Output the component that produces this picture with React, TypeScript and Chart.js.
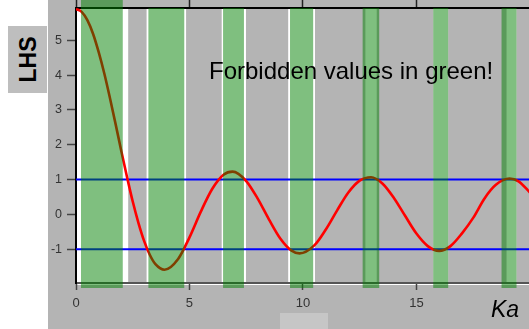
import React, { useEffect, useRef } from "react";
import { Chart, registerables } from "chart.js";

Chart.register(...registerables);

// Ka values (x) and the LHS curve values
const kaValues = [0, 0.25, 0.5, 0.75, 1, 1.25, 1.5, 1.75, 2, 2.25, 2.5, 2.75, 3, 3.25, 3.5, 3.9, 4.5, 5, 5.5, 6, 6.5, 6.9, 7.5, 8, 8.5, 9, 9.5, 9.85, 10.5, 11, 11.5, 12, 12.5, 13, 13.5, 14, 14.5, 15, 15.5, 16, 16.5, 17, 17.5, 18, 18.5, 19.1, 19.5, 20];
const lhsValues = [5.9, 5.82, 5.58, 5.19, 4.66, 4.04, 3.33, 2.58, 1.81, 1.07, 0.37, -0.24, -0.76, -1.16, -1.43, -1.59, -1.28, -0.66, 0.08, 0.73, 1.14, 1.23, 0.96, 0.46, -0.14, -0.69, -1.04, -1.12, -0.89, -0.44, 0.11, 0.63, 0.97, 1.07, 0.89, 0.48, -0.04, -0.55, -0.91, -1.05, -0.91, -0.55, -0.1, 0.46, 0.85, 1.03, 0.95, 0.63];

// Limit lines
const upperLimit = 1;
const lowerLimit = -1;

// Forbidden (green) bands in Ka units
const forbiddenStart = [0.22, 3.19, 6.48, 9.43, 12.63, 15.74, 18.75];
const forbiddenEnd = [2.06, 4.77, 7.4, 10.45, 13.36, 16.4, 19.41];

// Allowed (grey) bands in Ka units
const allowedStart = [2.3, 4.85, 7.49, 10.53, 13.25, 16.4, 19.41];
const allowedEnd = [3.11, 6.42, 9.35, 12.75, 15.74, 18.97, 21];

// Axis ranges and ticks
const X_MIN = 0;
const X_MAX = 19.96;
const Y_MIN = -1.97;
const Y_MAX = 5.93;
const xTickStep = 5;
const yTickStep = 1;

const FONT = "'Liberation Sans', Arial, Helvetica, sans-serif";
const PANEL_GRAY = "#b4b4b4";

const bandsPlugin = {
  id: "bands",
  beforeDraw(chart: any) {
    const { ctx, chartArea: a, width, height } = chart;
    const xs = chart.scales.x;
    ctx.save();
    ctx.fillStyle = "#ffffff";
    ctx.fillRect(0, 0, width, height);
    ctx.fillStyle = PANEL_GRAY;
    ctx.fillRect(48, 0, width - 48, height);
    ctx.fillStyle = "#ffffff";
    ctx.fillRect(a.left, a.top, a.right - a.left, a.bottom - a.top + 2);
    ctx.fillStyle = PANEL_GRAY;
    for (let i = 0; i < allowedStart.length; i++) {
      const x0 = Math.max(xs.getPixelForValue(allowedStart[i]), a.left);
      const x1 = Math.min(xs.getPixelForValue(allowedEnd[i]), a.right);
      if (x1 > x0) ctx.fillRect(x0, a.top, x1 - x0, a.bottom - a.top);
    }
    ctx.restore();
  },
  afterDatasetsDraw(chart: any) {
    const { ctx, chartArea: a } = chart;
    const xs = chart.scales.x;
    ctx.save();
    ctx.fillStyle = "rgba(0,128,0,0.5)";
    for (let i = 0; i < forbiddenStart.length; i++) {
      const x0 = Math.max(xs.getPixelForValue(forbiddenStart[i]), a.left);
      const x1 = Math.min(xs.getPixelForValue(forbiddenEnd[i]), a.right);
      const top = i === 0 ? 0 : a.top;
      const bottom = a.bottom + 5;
      if (x1 > x0) ctx.fillRect(x0, top, x1 - x0, bottom - top);
    }
    ctx.restore();
  },
};

function fixSize(size: { w?: number; h?: number }) {
  return (scale: any) => {
    if (size.w !== undefined) scale.width = size.w;
    if (size.h !== undefined) scale.height = size.h;
    scale.paddingTop = 0;
    scale.paddingBottom = 0;
    scale.paddingLeft = 0;
    scale.paddingRight = 0;
  };
}

export default function App() {
  const canvasRef = useRef<HTMLCanvasElement | null>(null);

  useEffect(() => {
    if (!canvasRef.current) return;
    const curve = kaValues.map((k, i) => ({ x: k, y: lhsValues[i] }));
    const chart = new Chart(canvasRef.current, {
      type: "line",
      data: {
        datasets: [
          {
            data: curve,
            borderColor: "#ff0000",
            borderWidth: 2.6,
            pointRadius: 0,
            cubicInterpolationMode: "monotone",
            fill: false,
          },
          {
            data: [
              { x: X_MIN, y: upperLimit },
              { x: X_MAX, y: upperLimit },
            ],
            borderColor: "#0000ff",
            borderWidth: 2,
            pointRadius: 0,
            fill: false,
          },
          {
            data: [
              { x: X_MIN, y: lowerLimit },
              { x: X_MAX, y: lowerLimit },
            ],
            borderColor: "#0000ff",
            borderWidth: 2,
            pointRadius: 0,
            fill: false,
          },
        ],
      },
      options: {
        responsive: false,
        animation: false,
        events: [],
        layout: { autoPadding: false, padding: { left: 51, top: 0, right: 0, bottom: 0 } },
        plugins: {
          legend: { display: false },
          tooltip: { enabled: false },
          title: { display: false },
        },
        scales: {
          x: {
            type: "linear",
            axis: "x",
            position: "bottom",
            min: X_MIN,
            max: X_MAX,
            afterFit: fixSize({ h: 46 }),
            ticks: {
              stepSize: xTickStep,
              includeBounds: false,
              padding: 6,
              color: "#333333",
              maxRotation: 0,
              font: { family: FONT, size: 13 },
            },
            grid: {
              drawOnChartArea: false,
              drawTicks: true,
              tickLength: 7,
              tickColor: "#444444",
              tickWidth: 1.5,
            },
            border: { display: true, color: "#555555", width: 2 },
          },
          x2: {
            type: "linear",
            axis: "x",
            position: "top",
            min: X_MIN,
            max: X_MAX,
            afterFit: fixSize({ h: 8 }),
            ticks: { stepSize: xTickStep, includeBounds: false, display: false },
            grid: {
              drawOnChartArea: false,
              drawTicks: true,
              tickLength: 8,
              tickColor: "#222222",
              tickWidth: 1.5,
            },
            border: { display: true, color: "#000000", width: 2 },
          },
          y: {
            type: "linear",
            position: "left",
            min: Y_MIN,
            max: Y_MAX,
            afterFit: fixSize({ w: 25 }),
            ticks: {
              stepSize: yTickStep,
              includeBounds: false,
              padding: 5,
              color: "#333333",
              font: { family: FONT, size: 12.5 },
            },
            grid: {
              drawOnChartArea: false,
              drawTicks: true,
              tickLength: 9,
              tickColor: "#444444",
              tickWidth: 1.5,
            },
            border: { display: true, color: "#000000", width: 2 },
          },
        },
      },
      plugins: [bandsPlugin],
    } as any);
    return () => chart.destroy();
  }, []);

  return (
    <div
      style={{
        position: "fixed",
        left: 0,
        top: 0,
        width: 529,
        height: 329,
        overflow: "hidden",
        background: "#ffffff",
      }}
    >
      <canvas ref={canvasRef} width={529} height={329} style={{ display: "block" }} />
      <div
        style={{
          position: "absolute",
          left: 8,
          top: 26,
          width: 39,
          height: 67,
          background: "#bebebe",
          display: "flex",
          alignItems: "center",
          justifyContent: "center",
        }}
      >
        <span
          style={{
            display: "inline-block",
            transform: "rotate(-90deg)",
            fontFamily: FONT,
            fontWeight: "bold",
            fontSize: 23,
            lineHeight: "23px",
            color: "#000",
            whiteSpace: "nowrap",
          }}
        >
          LHS
        </span>
      </div>
      <div
        style={{
          position: "absolute",
          left: 209,
          top: 59,
          fontFamily: FONT,
          fontSize: 24,
          lineHeight: "24px",
          color: "#000",
          whiteSpace: "nowrap",
        }}
      >
        Forbidden values in green!
      </div>
      <div
        style={{
          position: "absolute",
          left: 491,
          top: 298,
          fontFamily: FONT,
          fontStyle: "italic",
          fontSize: 23,
          lineHeight: "23px",
          color: "#000",
          whiteSpace: "nowrap",
        }}
      >
        Ka
      </div>
      <div
        style={{
          position: "absolute",
          left: 280,
          top: 313,
          width: 48,
          height: 16,
          background: "#c6c6c6",
        }}
      />
    </div>
  );
}
